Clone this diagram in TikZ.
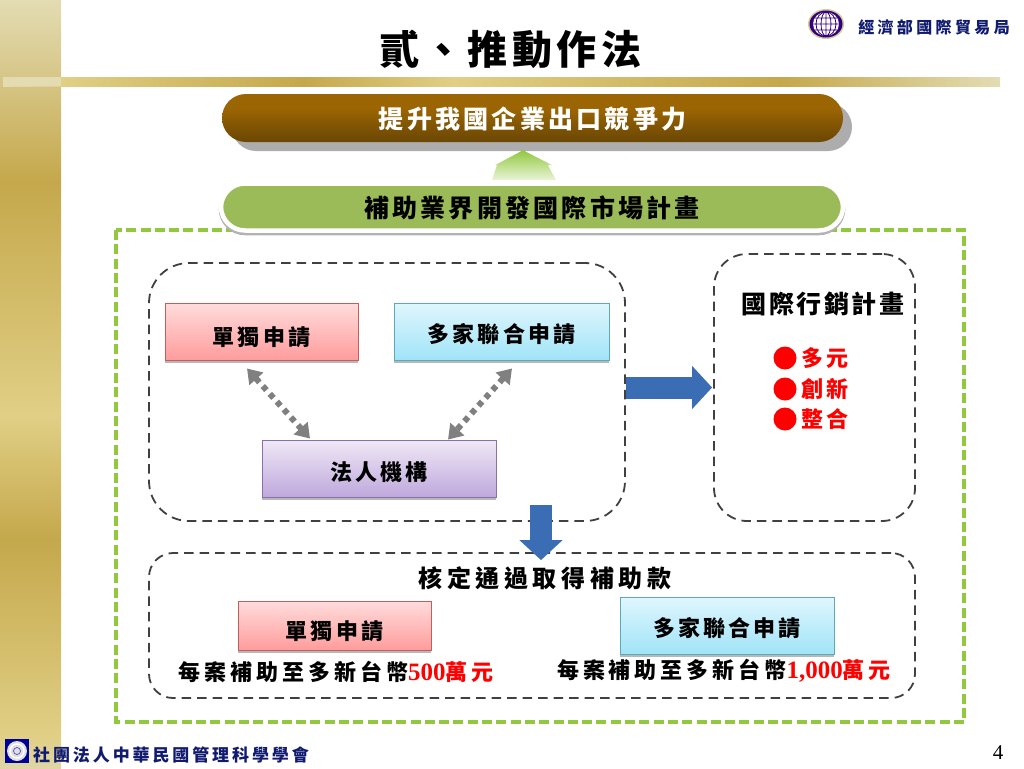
\documentclass[tikz,border=0pt]{standalone}
\usepackage{fontspec}
\setmainfont{Liberation Serif}
\newfontfamily\cjk{Noto Sans CJK TC}
\usetikzlibrary{arrows.meta,calc}
\newcommand{\cjkt}[2]{\cjk\bfseries\fontsize{#1}{#1}\selectfont\addfontfeature{LetterSpace=#2}}
\newcommand{\lowered}[2]{\smash{\raisebox{-#1pt}{#2}}}
\definecolor{barT}{HTML}{E3DCB3}\definecolor{barL}{HTML}{E0CF85}\definecolor{barD}{HTML}{C5A84C}\definecolor{barC}{HTML}{E0D5A5}
\definecolor{goalT}{HTML}{9C6503}\definecolor{goalM}{HTML}{855703}\definecolor{goalB}{HTML}{6A4704}
\definecolor{lime}{HTML}{92C83E}\definecolor{dgray}{HTML}{404040}\definecolor{arrowblue}{HTML}{3A6DB4}
\definecolor{navy}{HTML}{101A6E}\definecolor{ored}{HTML}{FF0000}
\definecolor{redT}{HTML}{FFDCDC}\definecolor{redB}{HTML}{FF9C9C}\definecolor{redE}{HTML}{C0605E}
\definecolor{cyanT}{HTML}{E0F6FD}\definecolor{cyanB}{HTML}{A0E4F8}\definecolor{cyanE}{HTML}{5FA8B8}
\definecolor{purT}{HTML}{EFE8F6}\definecolor{purB}{HTML}{BFA8DC}\definecolor{purE}{HTML}{8A70A8}
\definecolor{planG}{HTML}{9BBB59}
\pgfdeclareverticalshading{barsh}{100bp}{color(0bp)=(barC);color(25bp)=(barC);color(27.1bp)=(barL);color(39.9bp)=(barD);color(47.9bp)=(barL);color(63.2bp)=(barD);color(75bp)=(barT);color(100bp)=(barT)}
\pgfdeclarehorizontalshading{rulesh}{100bp}{color(0bp)=(barT);color(25bp)=(barT);color(28bp)=(barL);color(40.1bp)=(barD);color(47.6bp)=(barL);color(64bp)=(barD);color(75bp)=(barT);color(100bp)=(barT)}
\pgfdeclareverticalshading{goalsh}{100bp}{color(0bp)=(goalB);color(25bp)=(goalB);color(45bp)=(goalM);color(60bp)=(goalT);color(75bp)=(goalT);color(100bp)=(goalT)}
\tikzset{
 x=1pt,y=-1pt,
 softshadow/.style={preaction={draw=none,fill=black!28,transform canvas={yshift=-2.5pt}}},
 appbox/.style={draw=#1,line width=.9pt,anchor=center,inner sep=0pt,softshadow,
   font=\cjkt{22}{14},text=black},
 redbox/.style={appbox=redE,top color=redT,bottom color=redB},
 bluebox/.style={appbox=cyanE,top color=cyanT,bottom color=cyanB},
 purplebox/.style={appbox=purE,top color=purT,bottom color=purB},
 groupbox/.style={draw=dgray,line width=1.8pt,dash pattern=on 9.5pt off 6pt,inner sep=0pt,anchor=center},
 dotarrow/.style={draw=gray,line width=6pt,dash pattern=on 5.5pt off 5pt,{Triangle[length=14pt,width=18pt]}-{Triangle[length=14pt,width=18pt]}},
 blockarrow/.style={draw=arrowblue,line width=22pt,-{Triangle[length=20pt,width=42pt]}},
 plaintext/.style={anchor=center,inner sep=0pt,text=black},
}
\begin{document}
\begin{tikzpicture}
\useasboundingbox (0,0) rectangle (1024,768);
% slide decoration
\shade[shading=barsh] (0,0) rectangle (61,768);
\shade[shading=rulesh] (3,77) rectangle (1000,86);
\fill[barT] (10,77) rectangle (61,86);
% title
\node[plaintext,font=\cjkt{40}{11}] (title) at (510,49) {貳、推動作法};
% header logo
\fill[gray!60!yellow!70] (826,24) ellipse (18 and 15);
\fill[violet!60!blue!70!black] (826,24) ellipse (16.5 and 13.5);
\fill[white] (826,24) ellipse (13 and 12);
\draw[violet!60!blue!70!black,line width=.8pt] (826,12) -- (826,36) (813,24) -- (839,24) (815,18) -- (837,18) (815,30) -- (837,30)
  (826,24) ellipse (5 and 12) (826,24) ellipse (10 and 12);
\node[plaintext,text=navy,font=\cjkt{16}{21}] (dept) at (934,27) {經濟部國際貿易局};
% footer
\fill[blue!60!black] (5,739) rectangle (29,763);
\fill[gray!25] (17,751) circle (10);
\draw[white,line width=1.4pt] (17,751) circle (7);
\draw[blue!40!gray,line width=.7pt] (17,751) circle (3.5);
\node[plaintext,text=navy,font=\cjkt{17}{17}] (org) at (171,755) {社團法人中華民國管理科學學會};
\node[plaintext,font=\fontsize{21}{21}\selectfont] (page) at (998,753) {4};
% green frame
\draw[lime,line width=3.2pt,dash pattern=on 10pt off 4.3pt] (116,230) rectangle (964,722);
% pills
\fill[rounded corners=24pt,fill=black!32] (232,103) rectangle (852,151);
\node[anchor=center,inner sep=0pt,minimum width=621pt,minimum height=48pt,rounded corners=24pt,shading=goalsh,text=white,font=\cjkt{25}{13}] (goal) at (532.5,118) {\lowered{10.5}{提升我國企業出口競爭力}};
% green up arrow
\coordinate (gtip) at ([shift={(-9.5,8)}]goal.south);
\shade[top color=lime,bottom color=lime!20] (gtip) -- ++(29,15) -- ++(-4,0) -- ++(8,15) -- ++(-64,0) -- ++(5,-15) -- ++(-2,0) -- cycle;
\node[anchor=center,inner sep=0pt,minimum width=622pt,minimum height=47pt,rounded corners=24pt,draw=white,line width=4.5pt,fill=planG,
  preaction={draw=black!30,line width=4.5pt,transform canvas={yshift=-2.5pt}},text=black,font=\cjkt{25}{13}] (plan) at (532,207) {\lowered{10.5}{補助業界開發國際市場計畫}};
% groups
\node[groupbox,minimum width=476pt,minimum height=258pt,rounded corners=40pt] (group) at (387,392) {};
\node[groupbox,minimum width=201pt,minimum height=267pt,rounded corners=33pt] (mkt) at (814.5,387.5) {};
\node[groupbox,minimum width=766pt,minimum height=145pt,rounded corners=24pt] (grant) at (532,625.5) {};
% applicant boxes
\node[redbox,minimum width=193pt,minimum height=57pt] (solo) at (261.5,331.5) {\lowered{14.4}{單獨申請}};
\node[bluebox,minimum width=215pt,minimum height=57pt] (multi) at (501.5,331.5) {\lowered{11.4}{多家聯合申請}};
\node[purplebox,minimum width=234pt,minimum height=57pt] (corp) at (379,468.5) {\lowered{12}{法人機構}};
\draw[dotarrow] ([shift={(-14.5,8)}]solo.south) -- ([shift={(-69,-1)}]corp.north);
\draw[dotarrow] ([shift={(10.5,8)}]multi.south) -- ([shift={(69,0)}]corp.north);
% block arrows
\draw[blockarrow] ([yshift=4.5pt]group.east) -- ([xshift=-1pt]mkt.west);
\draw[blockarrow] ([shift={(154,-17)}]group.south) -- ([shift={(9,8)}]grant.north);
% marketing
\node[plaintext,font=\cjkt{25}{10}] (mkttitle) at (823,304) {國際行銷計畫};
\node[circle,fill=ored,minimum size=23pt,inner sep=0pt] (b1) at (785,358) {};
\node[circle,fill=ored,minimum size=23pt,inner sep=0pt] (b2) at (785,389) {};
\node[circle,fill=ored,minimum size=23pt,inner sep=0pt] (b3) at (785,419) {};
\node[plaintext,text=ored,font=\cjkt{22}{11}] (t1) at (825,358) {多元};
\node[plaintext,text=ored,font=\cjkt{22}{11}] (t2) at (825,389) {創新};
\node[plaintext,text=ored,font=\cjkt{22}{11}] (t3) at (825,419) {整合};
% grant panel
\node[plaintext,font=\cjkt{24}{19}] (granttitle) at (545,578) {核定通過取得補助款};
\node[redbox,minimum width=193pt,minimum height=49pt] (solob) at (334.5,625.5) {\lowered{14}{單獨申請}};
\node[bluebox,minimum width=214pt,minimum height=57pt] (multib) at (727,625.5) {\lowered{10.5}{多家聯合申請}};
\node[plaintext,font=\cjkt{22}{18}] (amounta) at (336,672) {每案補助至多新台幣{\color{ored}\normalfont\bfseries\fontsize{25}{25}\selectfont 500}{\color{ored}萬元}};
\node[plaintext,font=\cjkt{22}{18}] (amountb) at (724,671) {每案補助至多新台幣{\color{ored}\normalfont\bfseries\fontsize{25}{25}\selectfont 1,000}{\color{ored}萬元}};
\end{tikzpicture}
\end{document}
